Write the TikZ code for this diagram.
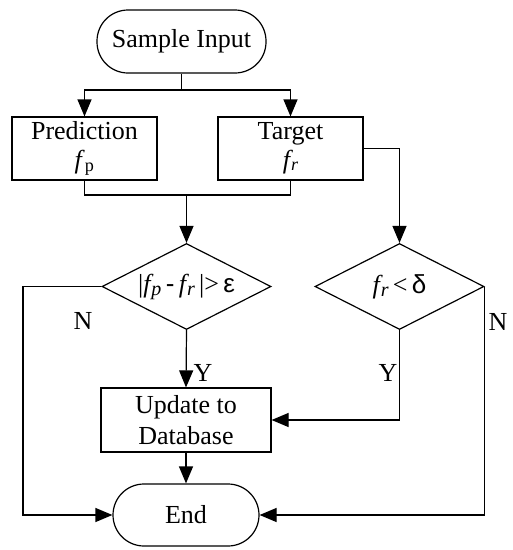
\documentclass[tikz,border=0pt]{standalone}
\usepackage{fontspec}
\setmainfont{Liberation Serif}
\newfontfamily\symfont{Liberation Sans}
\usetikzlibrary{arrows.meta,shapes.geometric}
\begin{document}
\begin{tikzpicture}[x=1pt,y=-1pt,
  every node/.style={font=\fontsize{26}{31}\selectfont, inner sep=0pt},
  line/.style={draw=black, line width=1.2pt},
  tip/.style={line, -{Triangle[length=17pt,width=14pt]}},
  term/.style={line, rectangle, rounded corners=31pt, align=center},
  proc/.style={line, rectangle, align=center},
  dia/.style={line, diamond, minimum width=169pt, minimum height=86pt},
  lab/.style={font=\fontsize{26}{30}\selectfont}]
\useasboundingbox (0,0) rectangle (513,550);
\node[term, minimum width=169pt, minimum height=63pt] (start) at (181.5,41.5) {Sample Input};
\node[proc, minimum width=145pt, minimum height=63pt] (pred) at (84.5,148.5) {Prediction\\[-2pt]\textit{f}\textsubscript{p}};
\node[proc, minimum width=145pt, minimum height=63pt] (targ) at (290.5,148.5) {Target\\[-2pt]\textit{f\kern1pt\raisebox{-2pt}{\fontsize{18}{18}\selectfont r}}};
\node[dia, label={center:{|\textit{f\kern1pt\raisebox{-3pt}{\fontsize{20}{20}\selectfont p}}\,{\symfont -}\,\textit{f\kern1pt\raisebox{-3pt}{\fontsize{20}{20}\selectfont r}}\,|>\,{\symfont ε}}}] (d1) at (186.5,286.5) {};
\node[dia, label={center:{\textit{f\kern1pt\raisebox{-3pt}{\fontsize{20}{20}\selectfont r}}\,<\,{\symfont δ}}}] (d2) at (399.5,286.5) {};
\node[proc, minimum width=170pt, minimum height=64pt] (upd) at (186,420) {Update to\\Database};
\node[term, minimum width=146pt, minimum height=62pt] (end) at (186,515) {End};
\coordinate (split) at (181.5,90);
\coordinate (mj) at (186.5,195);
\coordinate (ln) at (23,515);
\draw[line] (start.south) -- (split);
\draw[tip] (split) -| (pred.north);
\draw[tip] (split) -| (targ.north);
\draw[line] (pred.south) |- (mj) -| (targ.south);
\draw[tip] (mj) -- (d1.north);
\draw[tip] (targ.east) -| (d2.north);
\draw[tip] (d1.west) -| (ln) -- (end.west);
\draw[tip] (d2.east) |- (end.east);
\draw[tip] (d1.south) -- (upd.north);
\draw[tip] (d2.south) |- (upd.east);
\draw[tip] (upd.south) -- (end.north);
\node[lab] (n1) at (83,321) {N};
\node[lab] (n2) at (498,322) {N};
\node[lab] (y1) at (203,373) {Y};
\node[lab] (y2) at (388,373) {Y};
\end{tikzpicture}
\end{document}
